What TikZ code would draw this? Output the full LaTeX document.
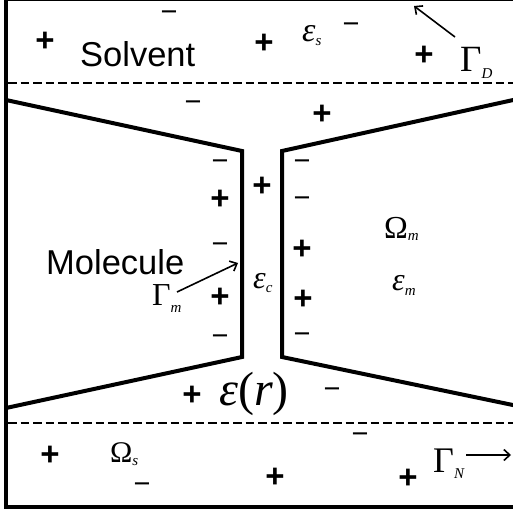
\documentclass[tikz,border=0pt]{standalone}
\usepackage{fontspec}
\setmainfont{Liberation Serif}
\newfontfamily\arialf{Liberation Sans}
\usetikzlibrary{arrows.meta}
\tikzset{
  frame/.style={line width=4pt},
  wall/.style={line width=4pt, line join=miter},
  bound/.style={line width=2.6pt, dash pattern=on 8.5pt off 4pt},
  pl/.style={font=\arialf\bfseries\fontsize{33}{33}\selectfont, inner sep=0pt},
  mn/.style={font=\arialf\fontsize{29}{29}\selectfont, inner sep=0pt, text height=10pt, text depth=-6pt},
  lbl/.style={font=\arialf\fontsize{34.5}{34.5}\selectfont, inner sep=0pt, anchor=base west},
  sym/.style={inner sep=0pt, anchor=base west},
  ptr/.style={line width=1.6pt, -{Straight Barb[length=6pt,width=11pt]}},
}
\newcommand{\bigsym}[4]{{\fontsize{#1}{#1}\selectfont #2}\raisebox{-#4pt}{\fontsize{15}{15}\selectfont\itshape #3}}
\begin{document}
\begin{tikzpicture}[x=1pt,y=-1pt]
\useasboundingbox (0,0) rectangle (513,513);
\clip (0,0) rectangle (513,513);
\fill[white] (0,0) rectangle (513,513);
% frame
\draw[frame] (520,-1) -- (6,-1) -- (6,506.5) -- (520,506.5);
% boundaries
\draw[bound] (8,83) -- (513,83);
\draw[bound] (8,423) -- (513,423);
% molecule walls
\draw[wall] (6,100) -- (242,151) -- (242,357) -- (6,408);
\draw[wall] (520,98.5) -- (282,151) -- (282,357) -- (520,406.5);
% text labels
\node[lbl] (solv) at (80,67) {Solvent};
\node[lbl] (mol) at (46,274) {Molecule};
\node[sym] (epss) at (302,42) {\bigsym{34}{\itshape ε}{s}{4}};
\node[sym] (gamD) at (460,72) {\bigsym{37}{Γ}{D}{7}};
\node[sym] (gamm) at (152,305) {\bigsym{32}{Γ}{m}{7}};
\node[sym] (epsc) at (253,288) {\bigsym{32}{\itshape ε}{c}{4}};
\node[sym] (omm) at (384,238) {\bigsym{32}{Ω}{m}{2}};
\node[sym] (epsm) at (392,290) {\bigsym{32}{\itshape ε}{m}{5}};
\node[sym] (epsr) at (219,405) {\fontsize{48}{48}\selectfont\itshape ε\/\upshape(\itshape r\/\upshape)};
\node[sym] (oms) at (110,462) {\bigsym{30}{Ω}{s}{3}};
\node[sym] (gamN) at (433,472) {\bigsym{36}{Γ}{N}{6}};
% pointers
\coordinate (tD) at (414,6);
\coordinate (tm) at (238,263);
\coordinate (tN) at (511,455);
\coordinate (sD) at (455,37);
\coordinate (sm) at (177,292);
\coordinate (sN) at (466,455);
\draw[ptr] (sD) -- (tD);
\draw[ptr] (sm) -- (tm);
\draw[ptr] (sN) -- (tN);
% charges
\node[pl] (p1) at (45,42) {+};
\node[pl] (p2) at (264,44) {+};
\node[pl] (p3) at (424,56) {+};
\node[pl] (p4) at (322,115) {+};
\node[pl] (p5) at (220,200) {+};
\node[pl] (p6) at (262,187) {+};
\node[pl] (p7) at (220,298) {+};
\node[pl] (p8) at (302,250) {+};
\node[pl] (p9) at (303,300) {+};
\node[pl] (p10) at (192,396) {+};
\node[pl] (p11) at (50,456) {+};
\node[pl] (p12) at (275,478) {+};
\node[pl] (p13) at (408,479) {+};
\node[mn] (m1) at (169,17) {−};
\node[mn] (m2) at (351,29) {−};
\node[mn] (m3) at (193,107) {−};
\node[mn] (m4) at (220,165) {−};
\node[mn] (m5) at (220,248) {−};
\node[mn] (m6) at (220,340) {−};
\node[mn] (m7) at (302,165) {−};
\node[mn] (m8) at (302,202) {−};
\node[mn] (m9) at (302,338) {−};
\node[mn] (m10) at (332,393) {−};
\node[mn] (m11) at (142,488) {−};
\node[mn] (m12) at (360,438) {−};
\end{tikzpicture}
\end{document}
